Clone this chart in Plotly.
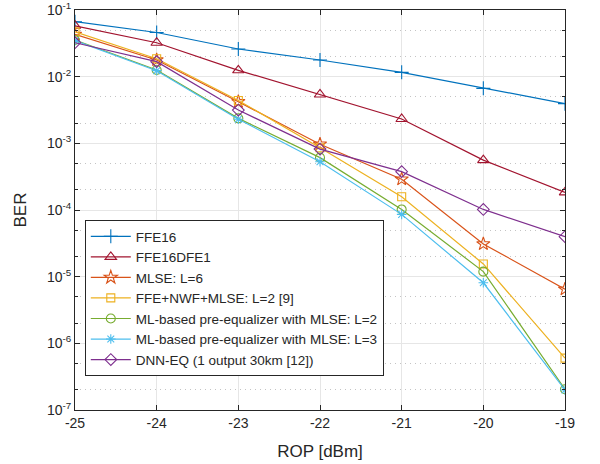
import plotly.graph_objects as go

# ROP sweep [dBm]
rop = [-25, -24, -23, -22, -21, -20, -19]
x_labels = ["-25", "-24", "-23", "-22", "-21", "-20", "-19"]

# BER values
ber_ffe16 = [0.0668, 0.046, 0.026, 0.0178, 0.0116, 0.00668, 0.00394]
ber_ffe16dfe1 = [0.058, 0.0323, 0.01245, 0.0054, 0.00232, 5.6e-4, 1.84e-4]
ber_mlse6 = [0.043, 0.0178, 0.0042, 9.7e-4, 2.9e-4, 3.1e-5, 6.5e-6]
ber_nwf = [0.047, 0.0186, 0.0044, 8.6e-4, 1.58e-4, 1.55e-5, 6.0e-7]
ber_ml2 = [0.0355, 0.0126, 0.00237, 6.1e-4, 1.02e-4, 1.19e-5, 2.05e-7]
ber_ml3 = [0.0347, 0.0123, 0.0023, 5.3e-4, 8.6e-5, 8.1e-6, 2.0e-7]
ber_dnn = [0.0323, 0.0168, 0.00316, 8.2e-4, 3.76e-4, 1.02e-4, 3.98e-5]

names = ["FFE16", "FFE16DFE1", "MLSE: L=6", "FFE+NWF+MLSE: L=2 [9]",
         "ML-based pre-equalizer with MLSE: L=2",
         "ML-based pre-equalizer with MLSE: L=3",
         "DNN-EQ (1 output 30km [12])"]
series = [ber_ffe16, ber_ffe16dfe1, ber_mlse6, ber_nwf, ber_ml2, ber_ml3, ber_dnn]
colors = ["#0072BD", "#A2142F", "#D95319", "#EDB120", "#77AC30", "#4DBEEE", "#7E2F8E"]
symbols = ["cross-thin-open", "triangle-up-open", "star-open", "square-open",
           "circle-open", "asterisk-open", "diamond-open"]
sizes = [10, 10, 10, 8, 9, 8, 9]

y_ticks = [1e-7, 1e-6, 1e-5, 1e-4, 1e-3, 1e-2, 1e-1]
y_labels = ["10<sup>-7</sup>", "10<sup>-6</sup>", "10<sup>-5</sup>", "10<sup>-4</sup>",
            "10<sup>-3</sup>", "10<sup>-2</sup>", "10<sup>-1</sup>"]

fig = go.Figure()
for name, ber, col, sym, sz in zip(names, series, colors, symbols, sizes):
    fig.add_trace(go.Scatter(x=rop, y=ber, name=name, mode="lines+markers",
                             line=dict(color=col, width=1.2),
                             marker=dict(symbol=sym, size=sz, color=col,
                                         line=dict(color=col, width=1.1))))

fig.update_xaxes(range=[-25, -19], tickvals=rop, ticktext=x_labels,
                 title_text="ROP [dBm]", title_standoff=15, automargin=False,
                 tickfont=dict(size=14),
                 showline=True, linecolor="#262626", linewidth=1, mirror="allticks",
                 ticks="inside", ticklen=5, tickcolor="#262626",
                 showgrid=True, gridcolor="#e6e6e6", zeroline=False)
fig.update_yaxes(type="log", range=[-7, -1], tickvals=y_ticks, ticktext=y_labels,
                 title_text="BER", automargin=False, tickfont=dict(size=14),
                 showline=True, linecolor="#262626", linewidth=1, mirror="allticks",
                 ticks="inside", ticklen=5, tickcolor="#262626",
                 showgrid=True, gridcolor="#e6e6e6", zeroline=False,
                 minor=dict(ticks="inside", ticklen=3, tickcolor="#262626",
                            showgrid=True, gridcolor="#c4c4c4", griddash="1px,4px"))

fig.update_layout(width=600, height=464, plot_bgcolor="white", paper_bgcolor="white",
                  font=dict(family="Liberation Sans, Arial", size=14, color="#262626"),
                  margin=dict(l=75, r=35, t=10, b=54),
                  legend=dict(x=0.02, y=0.475, xanchor="left", yanchor="top",
                              bgcolor="white", bordercolor="#262626", borderwidth=1,
                              font=dict(size=13.5), tracegroupgap=0,
                              itemwidth=40),
                  showlegend=True)

# drop the default page margin so the figure sits at the window origin
fig.write_html("out.html", config={"displayModeBar": False},
               post_script="document.body.style.margin='0';")
